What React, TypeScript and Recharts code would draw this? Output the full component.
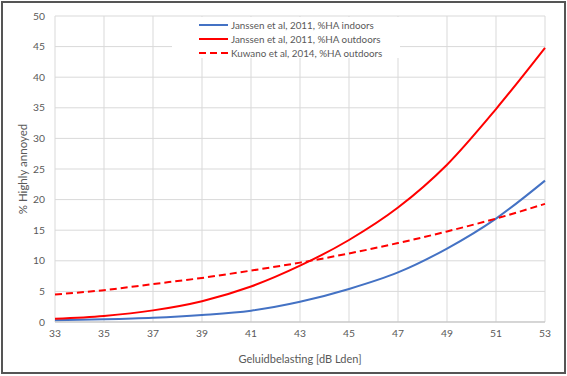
import React from 'react';
import {
  LineChart,
  Line,
  XAxis,
  YAxis,
  CartesianGrid,
  Legend,
} from 'recharts';

const levels = [33, 35, 37, 39, 41, 43, 45, 47, 49, 51, 53];
const indoors = [0.3, 0.45, 0.7, 1.15, 1.85, 3.3, 5.4, 8.1, 12.0, 16.9, 23.1];
const outdoors = [0.55, 1.0, 1.9, 3.4, 5.8, 9.2, 13.4, 18.7, 25.7, 34.8, 44.8];
const kuwano = [4.5, 5.2, 6.2, 7.2, 8.4, 9.7, 11.2, 12.9, 14.8, 16.9, 19.3];
const yTicks = [0, 5, 10, 15, 20, 25, 30, 35, 40, 45, 50];

const data = levels.map((x, i) => ({
  x,
  indoors: indoors[i],
  outdoors: outdoors[i],
  kuwano: kuwano[i],
}));

const FONT = 'Lato, "Liberation Sans", sans-serif';
const TEXT = '#595959';

const legendItems = [
  { label: 'Janssen et al, 2011, %HA indoors', color: '#4472C4', dash: undefined },
  { label: 'Janssen et al, 2011, %HA outdoors', color: '#FF0000', dash: undefined },
  { label: 'Kuwano et al, 2014, %HA outdoors', color: '#FF0000', dash: '7 4' },
];

const LegendBox = () => (
  <div style={{ paddingTop: 1, fontFamily: FONT }}>
    {legendItems.map((it) => (
      <div key={it.label} style={{ display: 'flex', alignItems: 'center', height: 14 }}>
        <svg width={29} height={6} style={{ marginLeft: 27 }}>
          <line x1={0} y1={3} x2={29} y2={3} stroke={it.color} strokeWidth={2} strokeDasharray={it.dash} />
        </svg>
        <span style={{ marginLeft: 3, fontSize: 9.8, color: TEXT, whiteSpace: 'nowrap' }}>{it.label}</span>
      </div>
    ))}
  </div>
);

export default function App() {
  return (
    <div style={{ position: 'absolute', left: 0, top: 0, width: 567, height: 376, fontFamily: FONT, background: '#fff' }}>
      <LineChart width={567} height={376} data={data} margin={{ top: 16, right: 22, bottom: 0, left: 0 }}>
        <CartesianGrid stroke="#d9d9d9" />
        <XAxis
          dataKey="x"
          type="number"
          domain={[33, 53]}
          ticks={levels}
          height={54}
          stroke="#bfbfbf"
          tickLine={false}
          tick={{ fontSize: 10.3, fill: TEXT }}
          label={{ value: 'Geluidbelasting [dB Lden]', position: 'insideBottom', offset: 13, fill: TEXT, fontSize: 11 }}
        />
        <YAxis
          domain={[0, 50]}
          ticks={yTicks}
          width={55}
          axisLine={false}
          tickLine={false}
          tickMargin={4}
          tick={{ fontSize: 10.3, fill: TEXT }}
          label={{ value: '% Highly annoyed', angle: -90, position: 'center', dx: -5, fill: TEXT, fontSize: 11.5 }}
        />
        <Legend
          layout="vertical"
          align="center"
          verticalAlign="middle"
          content={<LegendBox />}
          wrapperStyle={{ top: 17, left: 172, width: 228, height: 41, background: '#fff' }}
        />
        <Line type="monotone" dataKey="indoors" stroke="#4472C4" strokeWidth={2} dot={false} isAnimationActive={false} />
        <Line type="monotone" dataKey="outdoors" stroke="#FF0000" strokeWidth={2} dot={false} isAnimationActive={false} />
        <Line type="monotone" dataKey="kuwano" stroke="#FF0000" strokeWidth={2} strokeDasharray="7 4" dot={false} isAnimationActive={false} />
      </LineChart>
      <div style={{ position: 'absolute', left: 1, top: 1, width: 561, height: 369, border: '2px solid #555', pointerEvents: 'none' }} />
    </div>
  );
}
